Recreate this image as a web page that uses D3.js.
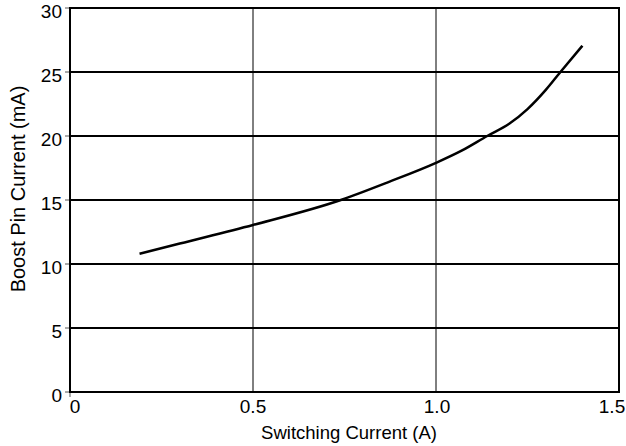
<!DOCTYPE html>
<html>
<head>
<meta charset="utf-8">
<script src="https://cdn.jsdelivr.net/npm/d3@7"></script>
<style>
  body { margin: 0; background: #fff; }
  text { font-family: "Liberation Sans", Arial, sans-serif; fill: #000; }
</style>
</head>
<body>
<div id="chart"></div>
<script>
const switchingCurrent = [0.19, 0.3, 0.5, 0.74, 0.87, 1.0, 1.07, 1.14, 1.2, 1.25, 1.3, 1.34, 1.40];
const boostCurrent = [10.8, 11.6, 13.05, 15.0, 16.4, 17.9, 18.85, 20.0, 20.95, 22.1, 23.6, 25.0, 27.05];
const xTicks = [0, 0.5, 1.0, 1.5];
const xTickLabels = ["0", "0.5", "1.0", "1.5"];
const yTicks = [0, 5, 10, 15, 20, 25, 30];

const width = 626, height = 446;
const margin = { top: 8, right: 7, bottom: 54, left: 70 };

const svg = d3.select("#chart").append("svg")
  .attr("width", width)
  .attr("height", height);

const x = d3.scaleLinear().domain([0, 1.5]).range([margin.left, width - margin.right]);
const y = d3.scaleLinear().domain([0, 30]).range([height - margin.bottom, margin.top]);

// grid
svg.append("g")
  .selectAll("line")
  .data(yTicks.slice(1, -1))
  .enter()
  .append("line")
  .attr("x1", x(0)).attr("x2", x(1.5))
  .attr("y1", d => y(d)).attr("y2", d => y(d))
  .attr("stroke", "#000").attr("stroke-width", 2);

svg.append("g")
  .selectAll("line")
  .data(xTicks.slice(1, -1))
  .enter()
  .append("line")
  .attr("x1", d => x(d)).attr("x2", d => x(d))
  .attr("y1", y(0)).attr("y2", y(30))
  .attr("stroke", "#000").attr("stroke-width", 1);

// ticks
svg.append("g")
  .selectAll("line")
  .data(yTicks)
  .enter()
  .append("line")
  .attr("x1", x(0) - 5).attr("x2", x(0))
  .attr("y1", d => y(d)).attr("y2", d => y(d))
  .attr("stroke", "#555").attr("stroke-width", 1);

svg.append("line")
  .attr("x1", x(0)).attr("x2", x(0))
  .attr("y1", y(0)).attr("y2", y(0) + 5)
  .attr("stroke", "#555").attr("stroke-width", 1);

// frame
svg.append("rect")
  .attr("x", x(0)).attr("y", y(30))
  .attr("width", x(1.5) - x(0))
  .attr("height", y(0) - y(30))
  .attr("fill", "none")
  .attr("stroke", "#000")
  .attr("stroke-width", 2);

// tick labels
svg.append("g")
  .selectAll("text")
  .data(yTicks)
  .enter()
  .append("text")
  .attr("x", x(0) - 8)
  .attr("y", d => y(d) + 3)
  .attr("dy", "0.35em")
  .attr("text-anchor", "end")
  .style("font-size", "19px")
  .text(d => d);

const xOffsets = [5, 0, 1, -7];
svg.append("g")
  .selectAll("text")
  .data(xTicks)
  .enter()
  .append("text")
  .attr("x", (d, i) => x(d) + xOffsets[i])
  .attr("y", y(0) + 21)
  .attr("text-anchor", "middle")
  .style("font-size", "19px")
  .text((d, i) => xTickLabels[i]);

// axis titles
svg.append("text")
  .attr("x", 349)
  .attr("y", 439)
  .attr("text-anchor", "middle")
  .style("font-size", "18.5px")
  .text("Switching Current (A)");

svg.append("text")
  .attr("transform", "translate(25,189) rotate(-90)")
  .attr("text-anchor", "middle")
  .style("font-size", "20px")
  .text("Boost Pin Current (mA)");

// curve
const line = d3.line()
  .x((d, i) => x(switchingCurrent[i]))
  .y(d => y(d))
  .curve(d3.curveMonotoneX);

svg.append("path")
  .datum(boostCurrent)
  .attr("d", line)
  .attr("fill", "none")
  .attr("stroke", "#000")
  .attr("stroke-width", 2.5);
</script>
</body>
</html>
